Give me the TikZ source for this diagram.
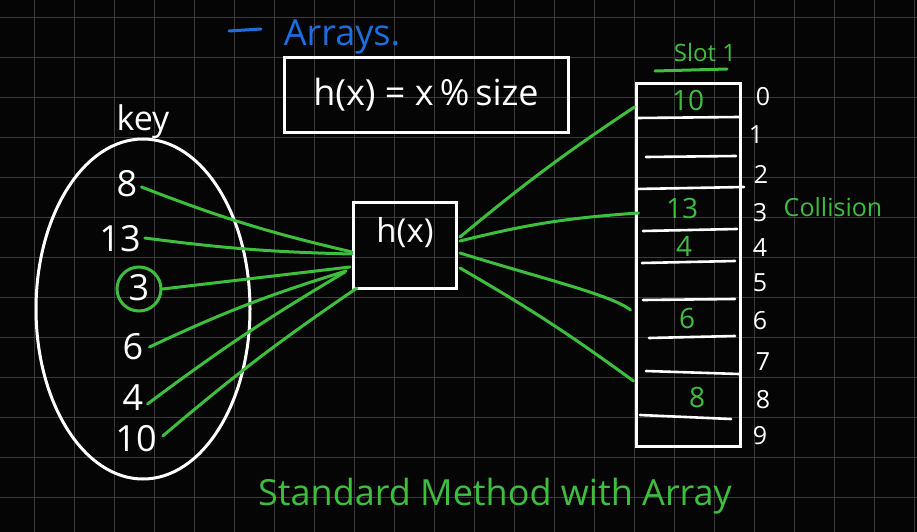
\documentclass[tikz,border=0pt]{standalone}
\usepackage{fontspec}
\setmainfont{Open Sans}
\definecolor{bg}{HTML}{050505}
\definecolor{gridc}{HTML}{3A3A3A}
\definecolor{pen}{HTML}{3DBE3D}
\definecolor{bluepen}{HTML}{1B6FE0}
\begin{document}
\begin{tikzpicture}[x=1pt,y=-1pt,
  wline/.style={draw=white, line width=3pt},
  gline/.style={draw=pen, line width=3pt, line cap=round},
  rowline/.style={white, line width=2.6pt, line cap=round},
  wtxt/.style={text=white, inner sep=0pt},
  gtxt/.style={text=pen, inner sep=0pt},
  keytxt/.style={wtxt, font=\fontsize{36}{36}\selectfont},
  idxtxt/.style={wtxt, font=\fontsize{25}{25}\selectfont},
  valtxt/.style={gtxt, font=\fontsize{28}{28}\selectfont}]
\useasboundingbox (0,0) rectangle (917,532);
\fill[bg] (0,0) rectangle (917,532);
\foreach \x in {34,74,...,914} \draw[gridc, line width=0.9pt] (\x,0) -- (\x,532);
\foreach \y in {17,57,...,497} \draw[gridc, line width=0.9pt] (0,\y) -- (917,\y);

% title
\draw[bluepen, line width=3pt, line cap=round] (229,31) -- (261,29);
\node[text=bluepen, inner sep=0pt, font=\fontsize{36}{36}\selectfont] (title) at (342,37) {Arrays.};

% formula box
\node[wline, minimum width=284pt, minimum height=74pt, font=\fontsize{36}{36}\selectfont, text=white] (formula) at (426,95) {h(x) = x\,\%\,size};

% key set
\node[keytxt, font=\fontsize{34}{34}\selectfont] (keylbl) at (143,122) {key};
\draw[white, line width=3pt] (143,309) ellipse [x radius=107, y radius=170];
\node[keytxt] (k8) at (127,184) {8};
\node[keytxt] (k13) at (120,239) {13};
\node[keytxt] (k3) at (139,288) {3};
\node[draw=pen, line width=3pt, circle, minimum size=44pt, inner sep=0pt] (k3c) at (139,289) {};
\node[keytxt] (k6) at (133,347) {6};
\node[keytxt] (k4) at (133,398) {4};
\node[keytxt] (k10) at (136,439) {10};

% hash box
\node[wline, minimum width=103pt, minimum height=86pt] (h) at (405,245) {};
\node[wtxt, font=\fontsize{33}{33}\selectfont] (hlbl) at (405,233) {h(x)};

% array
\node[wline, minimum width=104pt, minimum height=362pt] (arr) at (688,265) {};
\draw[rowline] (637,118) -- (739,117);
\draw[rowline] (646,157) -- (736,156);
\draw[rowline] (636,189) -- (744,187);
\draw[rowline] (643,231) -- (737,229);
\draw[rowline] (642,263) -- (735,261);
\draw[rowline] (643,300) -- (735,299);
\draw[rowline] (649,338) -- (735,336);
\draw[rowline] (646,371) -- (739,374);
\draw[rowline] (640,415) -- (731,419);

\node[gtxt, font=\fontsize{24}{24}\selectfont] (slotlbl) at (705,53) {Slot 1};
\draw[gline] (655,71) -- (727,69);

\node[valtxt] (v0) at (688,100) {10};
\node[valtxt] (v3) at (682,208) {13};
\node[valtxt] (v4) at (684,246) {4};
\node[valtxt] (v6) at (687,318) {6};
\node[valtxt] (v8) at (697,397) {8};

\node[idxtxt] (i0) at (763,97) {0};
\node[idxtxt] (i1) at (756,135) {1};
\node[idxtxt] (i2) at (761,174) {2};
\node[idxtxt] (i3) at (760,213) {3};
\node[idxtxt] (i4) at (760,248) {4};
\node[idxtxt] (i5) at (760,283) {5};
\node[idxtxt] (i6) at (760,321) {6};
\node[idxtxt] (i7) at (763,362) {7};
\node[idxtxt] (i8) at (763,400) {8};
\node[idxtxt] (i9) at (760,436) {9};

\node[gtxt, font=\fontsize{25}{25}\selectfont] (coll) at (833,207) {Collision};

% connectors keys -> h
\draw[gline] ([xshift=4pt,yshift=-3pt]k8.east) to[bend right=4] ([yshift=-7pt]h.west);
\draw[gline] ([xshift=4pt,yshift=1pt]k13.east) to[bend right=3] ([yshift=-9pt]h.west);
\draw[gline] (k3c.east) to ([xshift=-2pt,yshift=-22pt]h.west);
\draw[gline] ([xshift=6pt]k6.east) to[bend left=4] ([xshift=-6pt,yshift=-26pt]h.west);
\draw[gline] ([xshift=4pt,yshift=-6pt]k4.east) to[bend left=3] ([xshift=-7pt,yshift=-27pt]h.west);
\draw[gline] ([xshift=6pt,yshift=3pt]k10.east) to[bend left=3] ([xshift=5pt,yshift=-43pt]h.west);

% connectors h -> array
\draw[gline] ([xshift=2pt,yshift=8pt]h.east) to[bend left=3] ([yshift=158pt]arr.west);
\draw[gline] ([xshift=2pt,yshift=4pt]h.east) to[bend left=5] ([xshift=4pt,yshift=52pt]arr.west);
\draw[gline] ([xshift=2pt,yshift=-8pt]h.east) .. controls (540,278) and (612,295) .. ([xshift=-4pt,yshift=-45pt]arr.west);
\draw[gline] ([xshift=2pt,yshift=-23pt]h.east) to[bend left=3] ([xshift=-1pt,yshift=-116pt]arr.west);

% caption
\node[gtxt, font=\fontsize{36}{36}\selectfont] (caption) at (495,496) {Standard Method with Array};
\end{tikzpicture}
\end{document}
